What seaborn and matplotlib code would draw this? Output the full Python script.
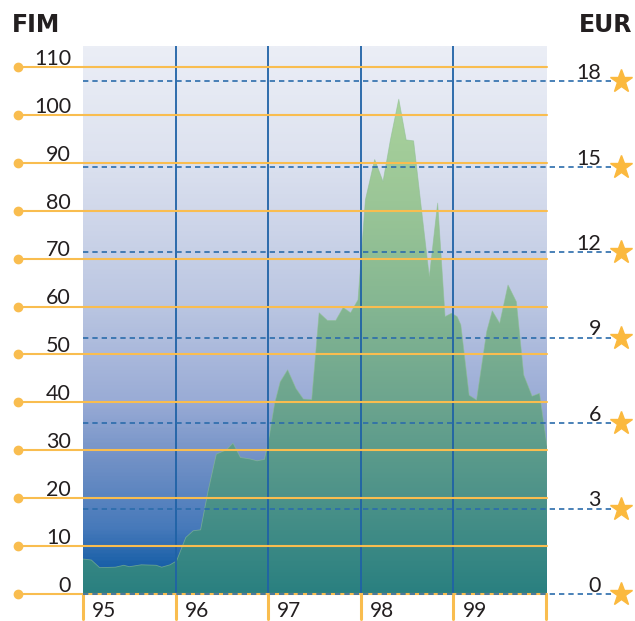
import matplotlib
matplotlib.use("Agg")
import matplotlib.pyplot as plt
import numpy as np
import pandas as pd
import seaborn as sns
from matplotlib.colors import LinearSegmentedColormap
from matplotlib.patches import Polygon


# share price in FIM
YEARS = [
    1995.00, 1995.09, 1995.18, 1995.35, 1995.44, 1995.50, 1995.63, 1995.79,
    1995.85, 1995.94, 1996.01, 1996.11, 1996.19, 1996.27, 1996.35, 1996.44,
    1996.55, 1996.62, 1996.70, 1996.80, 1996.88, 1996.96, 1997.01, 1997.07,
    1997.13, 1997.21, 1997.30, 1997.38, 1997.47, 1997.55, 1997.64, 1997.73,
    1997.81, 1997.89, 1997.97, 1998.05, 1998.15, 1998.24, 1998.32, 1998.41,
    1998.49, 1998.57, 1998.66, 1998.74, 1998.83, 1998.91, 1998.98, 1999.04,
    1999.08, 1999.17, 1999.25, 1999.36, 1999.42, 1999.50, 1999.59, 1999.68,
    1999.76, 1999.85, 1999.93, 2000.01,
]
FIM = [
    7.3, 7.1, 5.5, 5.6, 6.0, 5.7, 6.1, 6.0,
    5.6, 6.1, 6.9, 11.8, 13.2, 13.4, 21.4, 29.2,
    30.1, 31.5, 28.5, 28.2, 27.8, 28.1, 32.8, 39.8,
    44.3, 46.8, 42.9, 40.7, 40.6, 58.7, 57.1, 57.1,
    59.8, 58.7, 61.4, 82.3, 90.7, 86.1, 94.8, 103.3,
    94.8, 94.6, 79.5, 66.2, 81.6, 57.9, 58.6, 57.9,
    56.2, 41.5, 40.5, 54.8, 59.1, 56.5, 64.5, 61.0,
    45.7, 41.3, 41.9, 31.0,
]
YEAR_TICKS = [1995, 1996, 1997, 1998, 1999, 2000]
YEAR_LABELS = ["95", "96", "97", "98", "99"]
FIM_TICKS = list(range(0, 120, 10))
EUR_TICKS = [0, 3, 6, 9, 12, 15, 18]
FIM_PER_EUR = 5.94573

ORANGE = "#f9bd4f"
STAR = "#fbb93e"
BLUE = "#1f62a6"
DASH_BLUE = "#2b6cab"
TEXT = "#231f20"

W, H = 635, 621
PX_X0, PX_X1 = 83, 547
PX_Y0, PX_Y1 = 594, 46
PX_PER_YEAR = 92.6
PX_PER_FIM = 4.79


def dx(px):
    return 1995 + (px - PX_X0) / PX_PER_YEAR


def dy(py):
    return (PX_Y0 - py) / PX_PER_FIM


def pixel_cmap(name, stops):
    # stops given as (pixel row, colour); turn into 0..1 from bottom to top
    span = PX_Y0 - PX_Y1
    pts = sorted(((PX_Y0 - py) / span, c) for py, c in stops)
    return LinearSegmentedColormap.from_list(name, pts)


sns.set_theme(style="white")
plt.rcParams["font.family"] = ["Lato", "DejaVu Sans"]

fig = plt.figure(figsize=(W / 100, H / 100), dpi=100)
ax = fig.add_axes([PX_X0 / W, (H - PX_Y0) / H, (PX_X1 - PX_X0) / W, (PX_Y0 - PX_Y1) / H])
xmin, xmax = dx(PX_X0), dx(PX_X1)
ymax = dy(PX_Y1)
ax.set_xlim(xmin, xmax)
ax.set_ylim(0, ymax)
ax.axis("off")

grad = np.linspace(0, 1, 400).reshape(-1, 1)

bg_cmap = pixel_cmap("bg", [
    (46, "#ebeef6"), (150, "#dee3f0"), (300, "#bcc7e2"), (400, "#9aacd6"),
    (460, "#7291c6"), (530, "#4679ba"), (565, "#1b61a9"), (594, "#1660a8"),
])
ax.imshow(grad, extent=[xmin, xmax, 0, ymax], origin="lower", aspect="auto",
          cmap=bg_cmap, zorder=0)

area_cmap = pixel_cmap("area", [
    (46, "#aed69e"), (100, "#a9d29b"), (200, "#9bc697"), (300, "#86b792"),
    (400, "#6da58e"), (500, "#4c9289"), (594, "#2a8080"),
])
area_img = ax.imshow(grad, extent=[xmin, xmax, 0, ymax], origin="lower", aspect="auto",
                     cmap=area_cmap, zorder=1)
verts = [(YEARS[0], 0)] + list(zip(YEARS, FIM)) + [(YEARS[-1], 0)]
clip = Polygon(verts, closed=True, facecolor="none", edgecolor="none", transform=ax.transData)
ax.add_patch(clip)
area_img.set_clip_path(clip)

df = pd.DataFrame({"year": YEARS, "fim": FIM})
sns.lineplot(data=df, x="year", y="fim", ax=ax, color="#8fbf93", lw=0.6, alpha=0.6, zorder=2)

# FIM grid with dots and labels on the left
for v in FIM_TICKS:
    ax.plot([dx(18), dx(547)], [v, v], color=ORANGE, lw=1.5, clip_on=False, zorder=4)
    ax.plot(dx(18), v, "o", ms=6, color=ORANGE, clip_on=False, zorder=4)
    ax.text(dx(71), v + 2.2 / PX_PER_FIM, str(v), ha="right", va="baseline",
            fontsize=15.5, color=TEXT)

# year separators and bottom ticks
for yr in YEAR_TICKS:
    if 1995 < yr < 2000:
        ax.plot([yr, yr], [0, ymax], color=BLUE, lw=1.3, zorder=3)
    ax.plot([yr, yr], [0, dy(619)], color=ORANGE, lw=2.2, clip_on=False, zorder=4)
for yr, lab in zip(YEAR_TICKS, YEAR_LABELS):
    ax.text(yr + 9 / PX_PER_YEAR, dy(601), lab, ha="left", va="top",
            fontsize=15, color=TEXT)

# EUR grid, dashed, with stars on the right
for e in EUR_TICKS:
    v = e * FIM_PER_EUR
    ax.plot([dx(83), dx(612)], [v, v], color=DASH_BLUE, lw=1.2, dashes=(3.2, 2.4),
            clip_on=False, zorder=5)
    ax.text(dx(601), v + 2.2 / PX_PER_FIM, str(e), ha="right", va="baseline",
            fontsize=15.5, color=TEXT)
    ax.plot(dx(621), v, marker="*", ms=17, color=STAR, clip_on=False, zorder=5)

fig.text(12 / W, 1 - 32 / H, "FIM", ha="left", va="baseline", fontsize=17,
         fontweight="heavy", color=TEXT, family="DejaVu Sans")
fig.text(632 / W, 1 - 32 / H, "EUR", ha="right", va="baseline", fontsize=17,
         fontweight="heavy", color=TEXT, family="DejaVu Sans")

fig.savefig("out.png", dpi=100)
